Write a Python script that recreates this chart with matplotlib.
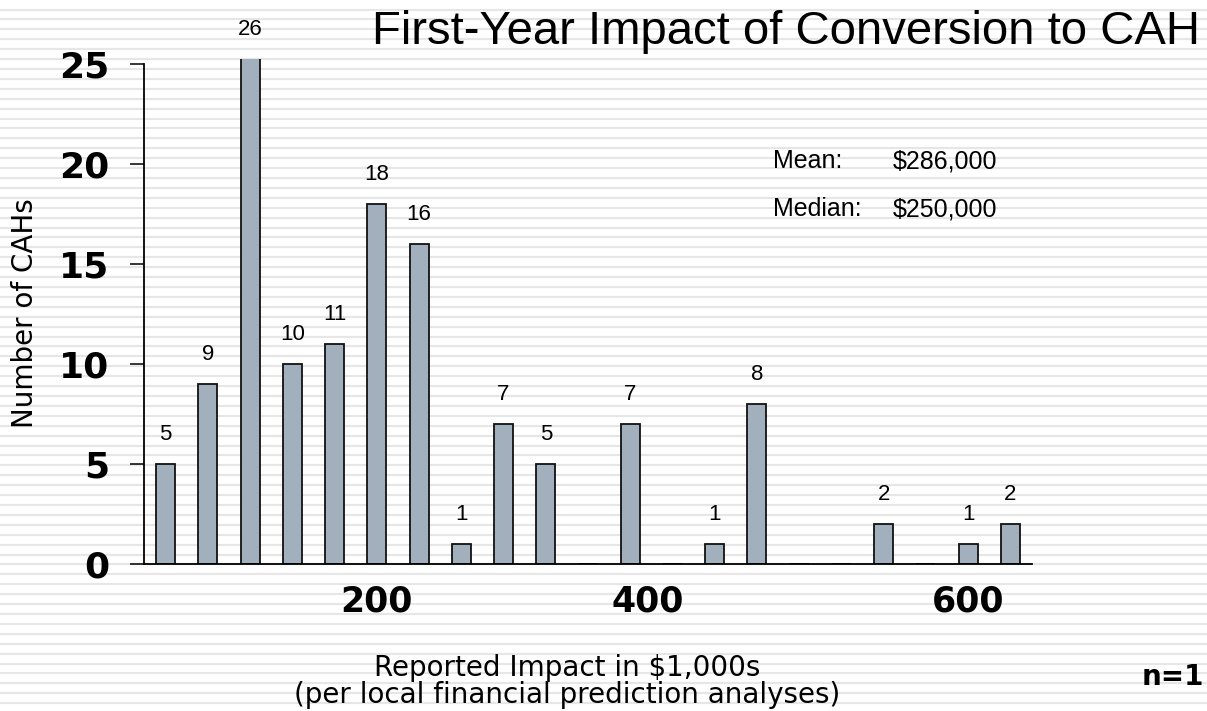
import matplotlib
matplotlib.use("Agg")
import matplotlib.pyplot as plt
from matplotlib.lines import Line2D

# histogram counts, one entry per bin (empty bins are 0)
counts = [5, 9, 26, 10, 11, 18, 16, 1, 7, 5, 0, 7, 0, 1, 8, 0, 0, 2, 0, 1, 2]
x_tick_pos = [5, 11.42, 19]
x_tick_labels = ['200', '400', '600']
y_ticks = [0, 5, 10, 15, 20, 25]
stats_names = ['Mean:', 'Median:']
stats_values = ['$286,000', '$250,000']

W, H = 1207, 711
YTOP = 25.25
fig = plt.figure(figsize=(W / 100, H / 100), dpi=100)
fig.patch.set_facecolor('white')

# striped background
y = 9.5
while y < H:
    fig.add_artist(Line2D([0, 1], [1 - y / H, 1 - y / H], color='#e6e6e6', lw=1.5, zorder=-10))
    y += 9.91

ax = fig.add_axes([144 / W, 1 - 564 / H, (1032 - 144) / W, (564 - 59) / H])
ax.patch.set_alpha(0)

xs = list(range(len(counts)))
bars = ax.bar(xs, counts, width=0.45, color='#a2afbd', edgecolor='#111111', linewidth=1.3)
# value labels above the bars (skip empty bins), clipped bar gets its label at the top
for x, c in zip(xs, counts):
    if c:
        ax.annotate(str(c), (x, min(c, YTOP)), xytext=(0, 14), textcoords='offset points',
                    ha='center', va='bottom', fontsize=16, family='Liberation Sans',
                    annotation_clip=False)

ax.set_xlim(-0.51, 20.51)
ax.set_ylim(0, YTOP)

for s in ['top', 'right']:
    ax.spines[s].set_visible(False)
ax.spines['left'].set_bounds(0, 25)
ax.spines['left'].set_linewidth(1.3)
ax.spines['bottom'].set_linewidth(1.3)

ax.set_yticks(y_ticks)
ax.set_yticklabels([str(t) for t in y_ticks], fontsize=26, fontweight='bold', family='DejaVu Sans')
ax.tick_params(axis='y', direction='out', length=10, width=1.1, pad=15)
ax.set_xticks(x_tick_pos)
ax.set_xticklabels(x_tick_labels, fontsize=25, fontweight='bold', family='DejaVu Sans')
ax.tick_params(axis='x', length=0, pad=15)

fig.text(1200 / W, 1 - 32 / H, 'First-Year Impact of Conversion to CAH', ha='right', va='center',
         fontsize=34, family='Liberation Sans')

fig.text(25 / W, 1 - 313 / H, 'Number of CAHs', rotation=90, ha='center', va='center',
         fontsize=20, family='DejaVu Sans')

fig.text(567 / W, 1 - 668 / H, 'Reported Impact in $1,000s', ha='center', va='center',
         fontsize=20, family='DejaVu Sans')
fig.text(567 / W, 1 - 695 / H, '(per local financial prediction analyses)', ha='center', va='center',
         fontsize=20, family='DejaVu Sans')

for i, (n, v) in enumerate(zip(stats_names, stats_values)):
    yy = 1 - (161 + i * 48) / H
    fig.text(773 / W, yy, n, ha='left', va='center', fontsize=18, family='Liberation Sans')
    fig.text(893 / W, yy, v, ha='left', va='center', fontsize=18, family='Liberation Sans')

fig.text(1142 / W, 1 - 677 / H, 'n=1', ha='left', va='center', fontsize=20,
         fontweight='bold', family='DejaVu Sans')

fig.savefig('out.png', dpi=100)
